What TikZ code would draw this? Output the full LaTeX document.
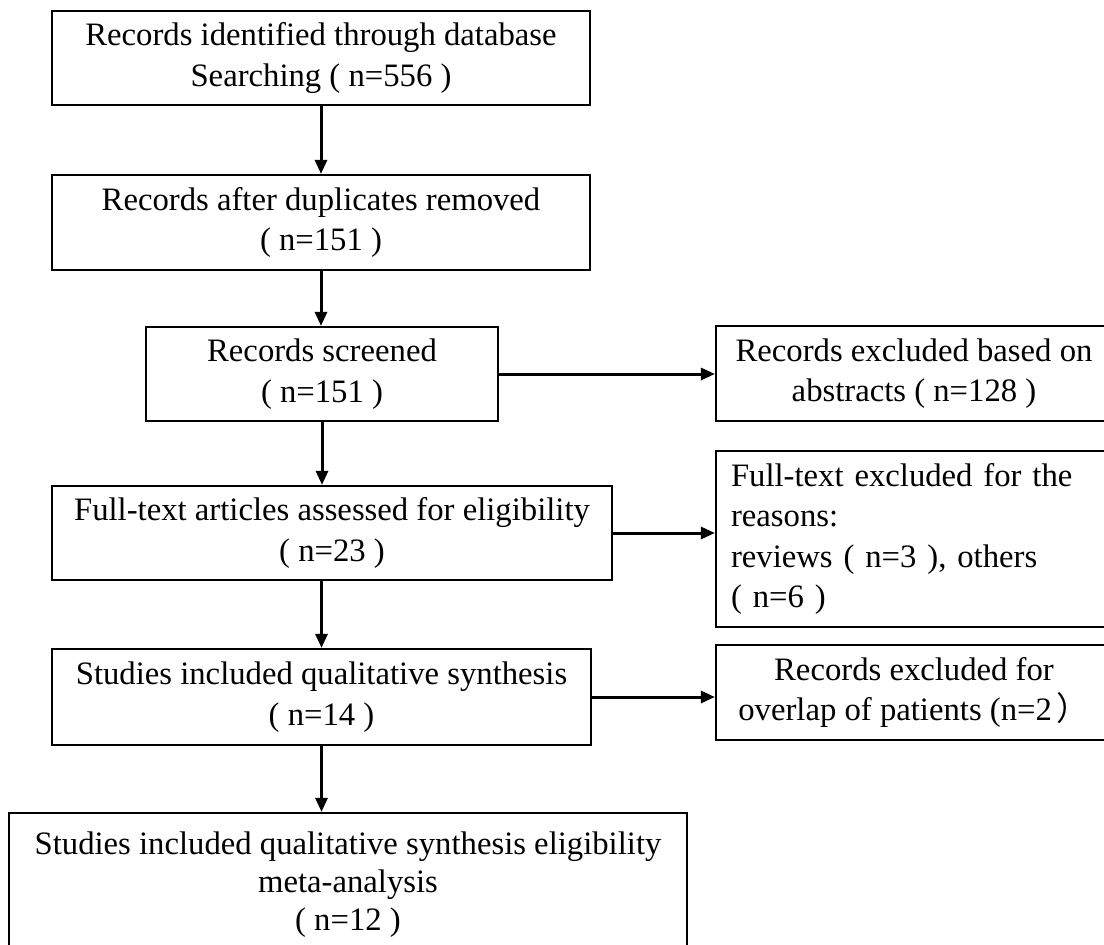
\documentclass[tikz,border=0pt]{standalone}
\usepackage{fontspec}
\setmainfont{Liberation Serif}
\newfontfamily\cjk{Noto Sans CJK SC}
\usetikzlibrary{positioning}
\usetikzlibrary{arrows.meta}
\tikzset{>={Triangle[length=14pt,width=12pt]}}
\tikzset{recbox/.style={draw, line width=2.2pt, inner sep=0pt, align=center, font=\fontsize{32.7}{40.5}\selectfont}}
\tikzset{flow/.style={->, line width=3pt}}
\begin{document}
\begin{tikzpicture}[x=1pt, y=1pt]
\useasboundingbox (0,0) rectangle (1104,-945);
\clip (0,0) rectangle (1104,-945);
\node[recbox, minimum width=538pt, minimum height=94pt] (ident) at (321,-58) {Records identified through database\\Searching ( n=556 )};
\node[recbox, minimum width=538pt, minimum height=95pt] (dup) at (321,-222.5) {Records after duplicates removed\\( n=151 )};
\node[recbox, minimum width=352pt, minimum height=94pt] (screen) at (322,-374) {Records screened\\( n=151 )};
\node[recbox, minimum width=396pt, minimum height=95pt] (abstr) at (914,-373.5) {Records excluded based on\\abstracts ( n=128 )};
\node[recbox, minimum width=560pt, minimum height=94pt] (full) at (332,-533) {Full-text articles assessed for eligibility\\( n=23 )};
\node[recbox, align=left, text width=366pt, inner xsep=15pt, minimum height=176pt] (fullex) at (914,-539) {Full-text excluded for the\\reasons:\\reviews ( n=3 ), others\\( n=6 )};
\node[recbox, minimum width=539pt, minimum height=96pt] (qual) at (321.5,-697) {Studies included qualitative synthesis\\( n=14 )};
\node[recbox, minimum width=396pt, minimum height=95pt] (overlap) at (914,-692.5) {Records excluded for\\overlap of patients (n=2\kern5pt{\cjk ）}};
\node[recbox, minimum width=678pt, minimum height=144pt, font=\fontsize{32.7}{38}\selectfont] (meta) at (348,-885) {Studies included qualitative synthesis eligibility\\meta-analysis\\( n=12 )};
\draw[flow] (ident.south) -- (dup.north);
\draw[flow] (dup.south) -- (dup.south |- screen.north);
\draw[flow] (screen.south) -- (screen.south |- full.north);
\draw[flow] (qual.north |- full.south) -- (qual.north);
\draw[flow] (qual.south) -- (qual.south |- meta.north);
\draw[flow] (screen.east) -- (screen.east -| abstr.west);
\draw[flow] (full.east) -- (full.east -| fullex.west);
\draw[flow] (qual.east) -- (qual.east -| overlap.west);
\end{tikzpicture}
\end{document}
